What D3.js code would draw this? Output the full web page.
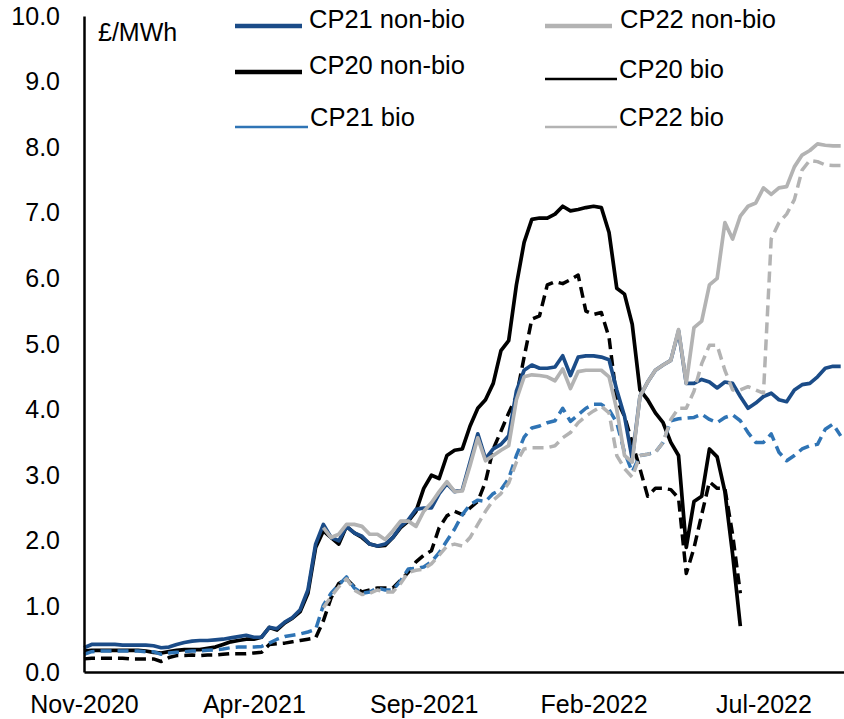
<!DOCTYPE html>
<html>
<head>
<meta charset="utf-8">
<script src="https://cdn.jsdelivr.net/npm/d3@7"></script>
<style>
  body { margin: 0; background: #fff; }
  #wrapper { width: 844px; height: 719px; }
  text { font-family: "Liberation Sans", Arial, sans-serif; fill: #000; }
</style>
</head>
<body>
<div id="wrapper"></div>
<script>
// weekly observations, first Monday of the series
const firstWeek = "2020-11-02"
const weekCount = 99

const tickLabels = ["2020-11-02", "2021-04-05", "2021-09-06", "2022-02-07", "2022-07-11"]
const yTicks = [0, 1, 2, 3, 4, 5, 6, 7, 8, 9, 10]

const cp20NonBio = [
  0.32, 0.33, 0.33, 0.33, 0.33, 0.33, 0.33, 0.33, 0.32, 0.30,
  0.29, 0.31, 0.33, 0.34, 0.34, 0.34, 0.36, 0.38, 0.42, 0.46,
  0.48, 0.50, 0.50, 0.53, 0.68, 0.64, 0.75, 0.82, 0.92, 1.20,
  1.90, 2.15, 2.05, 1.95, 2.22, 2.12, 2.05, 1.95, 1.92, 1.93,
  2.05, 2.20, 2.30, 2.45, 2.80, 3.00, 2.95, 3.30, 3.38, 3.40,
  3.75, 4.02, 4.15, 4.40, 4.90, 5.05, 5.90, 6.55, 6.90, 6.92,
  6.92, 6.98, 7.10, 7.03, 7.05, 7.08, 7.10, 7.08, 6.70, 5.85,
  5.76, 5.30, 4.30, 4.15, 3.95, 3.80, 3.50, 3.30, 1.90, 2.60,
  2.68, 3.40, 3.28, 2.75, 1.80, 0.70,
  null, null, null, null, null, null, null, null, null, null, null, null, null
]
const cp20Bio = [
  0.20, 0.21, 0.21, 0.21, 0.21, 0.21, 0.20, 0.20, 0.20, 0.20,
  0.16, 0.22, 0.25, 0.25, 0.26, 0.25, 0.26, 0.26, 0.27, 0.28,
  0.28, 0.28, 0.29, 0.30, 0.42, 0.43, 0.44, 0.46, 0.48, 0.50,
  0.52, 0.78, 1.13, 1.35, 1.42, 1.30, 1.22, 1.25, 1.28, 1.28,
  1.28, 1.40, 1.52, 1.68, 1.78, 1.85, 2.20, 2.38, 2.45, 2.40,
  2.50, 2.60, 2.90, 3.40, 3.67, 3.95, 4.20, 4.80, 5.38, 5.43,
  5.90, 5.95, 5.92, 5.98, 6.05, 5.50, 5.45, 5.48, 5.10, 4.15,
  3.90, 3.50, 3.10, 2.68, 2.80, 2.80, 2.78, 2.65, 1.50, 1.89,
  2.40, 2.90, 2.80, 2.80, 2.10, 1.20,
  null, null, null, null, null, null, null, null, null, null, null, null, null
]
const cp21NonBio = [
  0.37, 0.42, 0.42, 0.42, 0.42, 0.41, 0.41, 0.41, 0.41, 0.40,
  0.37, 0.38, 0.42, 0.45, 0.47, 0.48, 0.48, 0.49, 0.50, 0.52,
  0.54, 0.56, 0.53, 0.53, 0.68, 0.66, 0.76, 0.83, 0.95, 1.25,
  1.95, 2.25, 2.05, 2.00, 2.22, 2.12, 2.07, 1.95, 1.92, 1.95,
  2.05, 2.22, 2.32, 2.48, 2.50, 2.50, 2.72, 2.87, 2.75, 2.78,
  3.20, 3.63, 3.25, 3.40, 3.47, 3.60, 4.28, 4.60, 4.68, 4.63,
  4.63, 4.65, 4.82, 4.52, 4.80, 4.82, 4.82, 4.80, 4.76, 4.30,
  3.90, 3.25, 4.20, 4.42, 4.60, 4.68, 4.75, 5.20, 4.40, 4.40,
  4.46, 4.42, 4.33, 4.42, 4.40, 4.20, 4.02, 4.10, 4.20, 4.25,
  4.15, 4.12, 4.30, 4.38, 4.40, 4.50, 4.63, 4.66, 4.66
]
const cp21Bio = [
  0.27, 0.31, 0.32, 0.32, 0.32, 0.32, 0.32, 0.32, 0.31, 0.31,
  0.27, 0.29, 0.30, 0.31, 0.32, 0.32, 0.33, 0.34, 0.35, 0.37,
  0.38, 0.38, 0.38, 0.39, 0.44, 0.50, 0.54, 0.56, 0.58, 0.61,
  0.65, 1.02, 1.20, 1.33, 1.45, 1.28, 1.20, 1.22, 1.28, 1.25,
  1.25, 1.39, 1.57, 1.58, 1.60, 1.68, 1.82, 2.00, 2.18, 2.40,
  2.55, 2.62, 2.60, 2.72, 2.78, 2.95, 3.30, 3.58, 3.72, 3.75,
  3.80, 3.83, 4.02, 3.82, 3.92, 4.02, 4.08, 4.08, 4.00, 3.80,
  3.35, 3.05, 3.30, 3.32, 3.35, 3.50, 3.83, 3.86, 3.87, 3.88,
  3.93, 3.85, 3.80, 3.88, 3.92, 3.83, 3.65, 3.50, 3.50, 3.63,
  3.35, 3.22, 3.30, 3.40, 3.45, 3.47, 3.70, 3.78, 3.60
]
const cp22NonBio = [
  null, null, null, null, null, null, null, null, null, null,
  null, null, null, null, null, null, null, null, null, null,
  null, null, null, null, null, null, null, null, null, null,
  null, 2.20, 2.05, 2.10, 2.25, 2.25, 2.22, 2.10, 2.10, 2.02,
  2.15, 2.30, 2.30, 2.22, 2.45, 2.58, 2.75, 2.90, 2.75, 2.76,
  3.15, 3.57, 3.22, 3.30, 3.38, 3.45, 4.15, 4.50, 4.53, 4.52,
  4.50, 4.44, 4.62, 4.32, 4.58, 4.60, 4.60, 4.60, 4.50, 4.00,
  3.30, 3.20, 4.20, 4.42, 4.60, 4.68, 4.75, 5.22, 4.40, 5.25,
  5.35, 5.90, 6.00, 6.85, 6.60, 6.95, 7.10, 7.15, 7.38, 7.28,
  7.38, 7.40, 7.70, 7.88, 7.95, 8.05, 8.03, 8.02, 8.02
]
const cp22Bio = [
  null, null, null, null, null, null, null, null, null, null,
  null, null, null, null, null, null, null, null, null, null,
  null, null, null, null, null, null, null, null, null, null,
  null, 0.98, 1.15, 1.30, 1.42, 1.25, 1.18, 1.20, 1.25, 1.22,
  1.22, 1.35, 1.52, 1.55, 1.57, 1.65, 1.78, 1.92, 1.95, 1.92,
  2.05, 2.25, 2.45, 2.62, 2.72, 2.88, 3.20, 3.40, 3.42, 3.42,
  3.42, 3.45, 3.57, 3.65, 3.80, 3.90, 3.98, 4.05, 3.95, 3.30,
  3.10, 2.97, 3.30, 3.32, 3.35, 3.50, 3.85, 4.02, 4.02, 4.28,
  4.70, 4.98, 4.98, 4.60, 4.30, 4.30, 4.35, 4.30, 4.25, 6.60,
  6.85, 6.98, 7.20, 7.65, 7.80, 7.78, 7.73, 7.72, 7.72
]

function drawChart () {
    const parseDate = d3.timeParse("%Y-%m-%d")
    const start = parseDate(firstWeek)
    const dates = d3.range(weekCount).map(i => d3.timeWeek.offset(start, i))

    // draw order: later series sit on top
    const series = [
        { name: "CP20 non-bio", values: cp20NonBio, color: "#000000", dash: null },
        { name: "CP20 bio", values: cp20Bio, color: "#000000", dash: "11,6" },
        { name: "CP21 non-bio", values: cp21NonBio, color: "#1b4c88", dash: null },
        { name: "CP21 bio", values: cp21Bio, color: "#2f74b5", dash: "11,6" },
        { name: "CP22 non-bio", values: cp22NonBio, color: "#b3b3b3", dash: null },
        { name: "CP22 bio", values: cp22Bio, color: "#b3b3b3", dash: "11,6" },
    ]

    let dimensions = {
        width: 844,
        height: 719,
        margin: { top: 16, right: 0, bottom: 47, left: 84 },
    }
    dimensions.boundedWidth = dimensions.width - dimensions.margin.left - dimensions.margin.right
    dimensions.boundedHeight = dimensions.height - dimensions.margin.top - dimensions.margin.bottom

    const wrapper = d3.select("#wrapper")
        .append("svg")
        .attr("width", dimensions.width)
        .attr("height", dimensions.height)

    const bounds = wrapper.append("g")
        .attr("transform", `translate(${dimensions.margin.left},${dimensions.margin.top})`)

    const xScale = d3.scaleTime()
        .domain([start, d3.timeDay.offset(dates[dates.length - 1], 3.6)])
        .range([0, dimensions.boundedWidth])
    const yScale = d3.scaleLinear()
        .domain([0, 10])
        .range([dimensions.boundedHeight, 0])

    const lineGenerator = d3.line()
        .defined(d => d != null)
        .x((d, i) => xScale(dates[i]))
        .y(d => yScale(d))

    bounds.selectAll(".series")
        .data(series)
        .join("path")
        .attr("class", "series")
        .attr("d", d => lineGenerator(d.values))
        .attr("fill", "none")
        .attr("stroke", d => d.color)
        .attr("stroke-width", d => d.dash ? 3.5 : 3.7)
        .attr("stroke-linejoin", "round")
        .attr("stroke-dasharray", d => d.dash)

    // axes
    const xAxisGenerator = d3.axisBottom(xScale)
        .tickValues(tickLabels.map(parseDate))
        .tickFormat(d3.timeFormat("%b-%Y"))
        .tickSize(0)
        .tickPadding(23)
    const xAxis = bounds.append("g")
        .attr("transform", `translate(0,${dimensions.boundedHeight})`)
        .call(xAxisGenerator)
    const yAxisGenerator = d3.axisLeft(yScale)
        .tickValues(yTicks)
        .tickFormat(d3.format(".1f"))
        .tickSize(0)
        .tickPadding(24)
    const yAxis = bounds.append("g")
        .call(yAxisGenerator)

    xAxis.select(".domain").attr("stroke", "#000").attr("stroke-width", 2.5)
    yAxis.select(".domain").attr("stroke", "#000").attr("stroke-width", 2.5)
    xAxis.selectAll("text").style("font-size", "25px")
    yAxis.selectAll("text").style("font-size", "25px")

    bounds.append("text")
        .attr("x", 14)
        .attr("y", 25)
        .style("font-size", "25px")
        .text("£/MWh")

    // legend, three rows of two
    const legendItems = [
        { name: "CP21 non-bio", x: 151, y: 10, lineLen: 67, gap: 7, thick: true },
        { name: "CP22 non-bio", x: 461, y: 10, lineLen: 67, gap: 8, thick: true },
        { name: "CP20 non-bio", x: 151, y: 56, lineLen: 67, gap: 7, thick: true },
        { name: "CP20 bio", x: 461, y: 63, lineLen: 72, gap: 2, thick: false },
        { name: "CP21 bio", x: 151, y: 111, lineLen: 73, gap: 2, thick: false },
        { name: "CP22 bio", x: 461, y: 111, lineLen: 72, gap: 2, thick: false },
    ]
    const legend = bounds.selectAll(".legend")
        .data(legendItems)
        .join("g")
        .attr("class", "legend")
        .attr("transform", d => `translate(${d.x},${d.y})`)
    legend.append("line")
        .attr("x1", 0)
        .attr("x2", d => d.lineLen)
        .attr("stroke", d => series.find(s => s.name === d.name).color)
        .attr("stroke-width", d => d.thick ? 4.5 : 2.5)
    legend.append("text")
        .attr("x", d => d.lineLen + d.gap)
        .attr("y", d => d.thick ? 2 : -1)
        .style("font-size", "25.5px")
        .text(d => d.name)
}

drawChart()
</script>
</body>
</html>
